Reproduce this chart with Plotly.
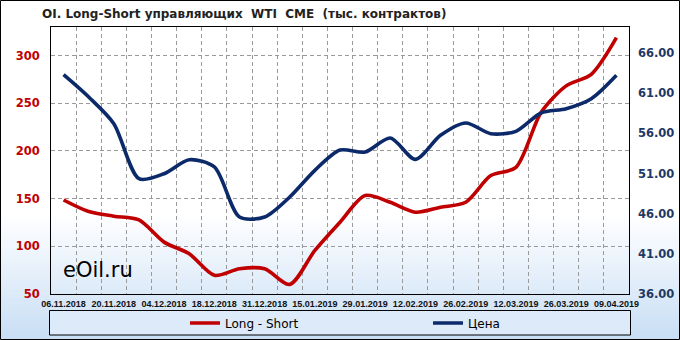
import plotly.graph_objects as go

# ---------------- data ----------------
dates = ["06.11.2018", "13.11.2018", "20.11.2018", "27.11.2018", "04.12.2018", "11.12.2018",
         "18.12.2018", "24.12.2018", "31.12.2018", "08.01.2019", "15.01.2019", "22.01.2019",
         "29.01.2019", "05.02.2019", "12.02.2019", "19.02.2019", "26.02.2019", "05.03.2019",
         "12.03.2019", "19.03.2019", "26.03.2019", "02.04.2019", "09.04.2019"]
long_short = [148.6, 136.5, 131.6, 127.7, 104.4, 92.2, 69.6, 76.5, 76.5, 60.1, 95.7, 125.3,
              153.2, 146.2, 135.8, 141.0, 146.2, 174.2, 182.8, 240.4, 268.3, 280.4, 318.8]
price = [63.31, 60.53, 57.21, 50.36, 50.98, 52.72, 51.82, 45.59, 45.59, 48.08, 51.40, 53.93,
         53.68, 55.43, 52.77, 55.76, 57.30, 55.96, 56.26, 58.54, 59.08, 60.32, 63.24]
left_ticks = [50, 100, 150, 200, 250, 300]
right_ticks = [36, 41, 46, 51, 56, 61, 66]
tick_labels = [d if i % 2 == 0 else "" for i, d in enumerate(dates)]

# ---------------- geometry ----------------
W, H = 680, 340
L, R, T, B = 51, 629, 27, 294
PW, PH = R - L, B - T

def px_x(x):
    return (x - L) / PW

def px_y(y):
    return (B - y) / PH

RED = "#C00000"
BLUE = "#0C2A6A"

fig = go.Figure()
fig.add_trace(go.Scatter(x=dates, y=long_short, name="Long - Short", mode="lines",
                         line=dict(color=RED, width=3.6, shape="spline", smoothing=0.8)))
fig.add_trace(go.Scatter(x=dates, y=price, name="Цена", mode="lines", yaxis="y2",
                         line=dict(color=BLUE, width=3.6, shape="spline", smoothing=0.8)))

n = len(dates)
yl_range = [50, 330]
yr_range = [36, 69.25]
xl_range = [-0.5, n - 0.5]

shapes = []
# ---------------- background gradient ----------------
g0, g1 = 215, 340
top_c = (255, 255, 255)
bot_c = (200, 222, 245)
step = 3
for yy in range(g0, g1, step):
    t = (yy + step / 2 - g0) / (g1 - g0)
    c = "rgb(%d,%d,%d)" % tuple(int(round(top_c[k] + (bot_c[k] - top_c[k]) * t)) for k in range(3))
    shapes.append(dict(type="rect", xref="paper", yref="paper", x0=px_x(0), x1=px_x(W),
                       y0=px_y(min(yy + step, H)), y1=px_y(yy),
                       fillcolor=c, line=dict(color=c, width=1), layer="below"))
# legend box
shapes.append(dict(type="rect", xref="paper", yref="paper", x0=px_x(49.5), x1=px_x(630.5),
                   y0=px_y(335), y1=px_y(310.5), fillcolor="#DCEAF9",
                   line=dict(color="black", width=1), layer="below"))
# outer frame
shapes.append(dict(type="rect", xref="paper", yref="paper", x0=px_x(0.5), x1=px_x(679.5),
                   y0=px_y(339.5), y1=px_y(0.5), line=dict(color="black", width=1),
                   fillcolor="rgba(0,0,0,0)", layer="above"))

grid_col = "#9A9A9A"
grid_dash = "4px,3px"

fig.update_layout(
    template="none",
    width=W, height=H,
    margin=dict(l=L, r=W - R, t=T, b=H - B, autoexpand=False),
    paper_bgcolor="white",
    plot_bgcolor="rgba(0,0,0,0)",
    shapes=shapes,
    showlegend=True,
    title=dict(text="<b>OI. Long-Short управляющих  WTI  CME  (тыс. контрактов)</b>",
               x=42 / W, xanchor="left", xref="container",
               y=1 - 14 / H, yanchor="middle", yref="container",
               font=dict(family="DejaVu Sans", size=12, color="#222222")),
    xaxis=dict(type="category", range=xl_range, tickmode="array", tickvals=dates,
               ticktext=tick_labels, tickson="boundaries", ticks="",
               showgrid=True, gridcolor=grid_col, gridwidth=1, griddash=grid_dash,
               showline=True, mirror=True, linecolor="black", linewidth=1,
               tickangle=0, ticklabelstandoff=1,
               tickfont=dict(family="Liberation Sans", size=9, color="#111111", weight="bold"),
               zeroline=False),
    yaxis=dict(range=yl_range, tickvals=left_ticks, showgrid=True, gridcolor=grid_col,
               gridwidth=1, griddash=grid_dash, zeroline=False,
               showline=True, mirror=True, linecolor="black", linewidth=1, ticks="",
               tickfont=dict(family="DejaVu Sans", size=11.5, color=RED, weight="bold"),
               ticklabelstandoff=8, tickformat="d"),
    yaxis2=dict(range=yr_range, tickvals=right_ticks, overlaying="y", side="right",
                showgrid=False, zeroline=False, tickformat=".2f", ticks="",
                tickfont=dict(family="DejaVu Sans", size=11.5, color="#1F3864", weight="bold"),
                ticklabelstandoff=8),
    legend=dict(orientation="h", x=px_x(185), xanchor="left", y=px_y(323), yanchor="middle",
                bgcolor="rgba(0,0,0,0)", borderwidth=0, entrywidth=198, entrywidthmode="pixels",
                font=dict(family="DejaVu Sans", size=12, color="black")),
    annotations=[dict(text="eOil.ru", xref="paper", yref="paper", x=px_x(61), y=px_y(270),
                      xanchor="left", yanchor="middle", showarrow=False,
                      font=dict(family="DejaVu Sans", size=21, color="black"))],
)

fig.write_html("out.html")
